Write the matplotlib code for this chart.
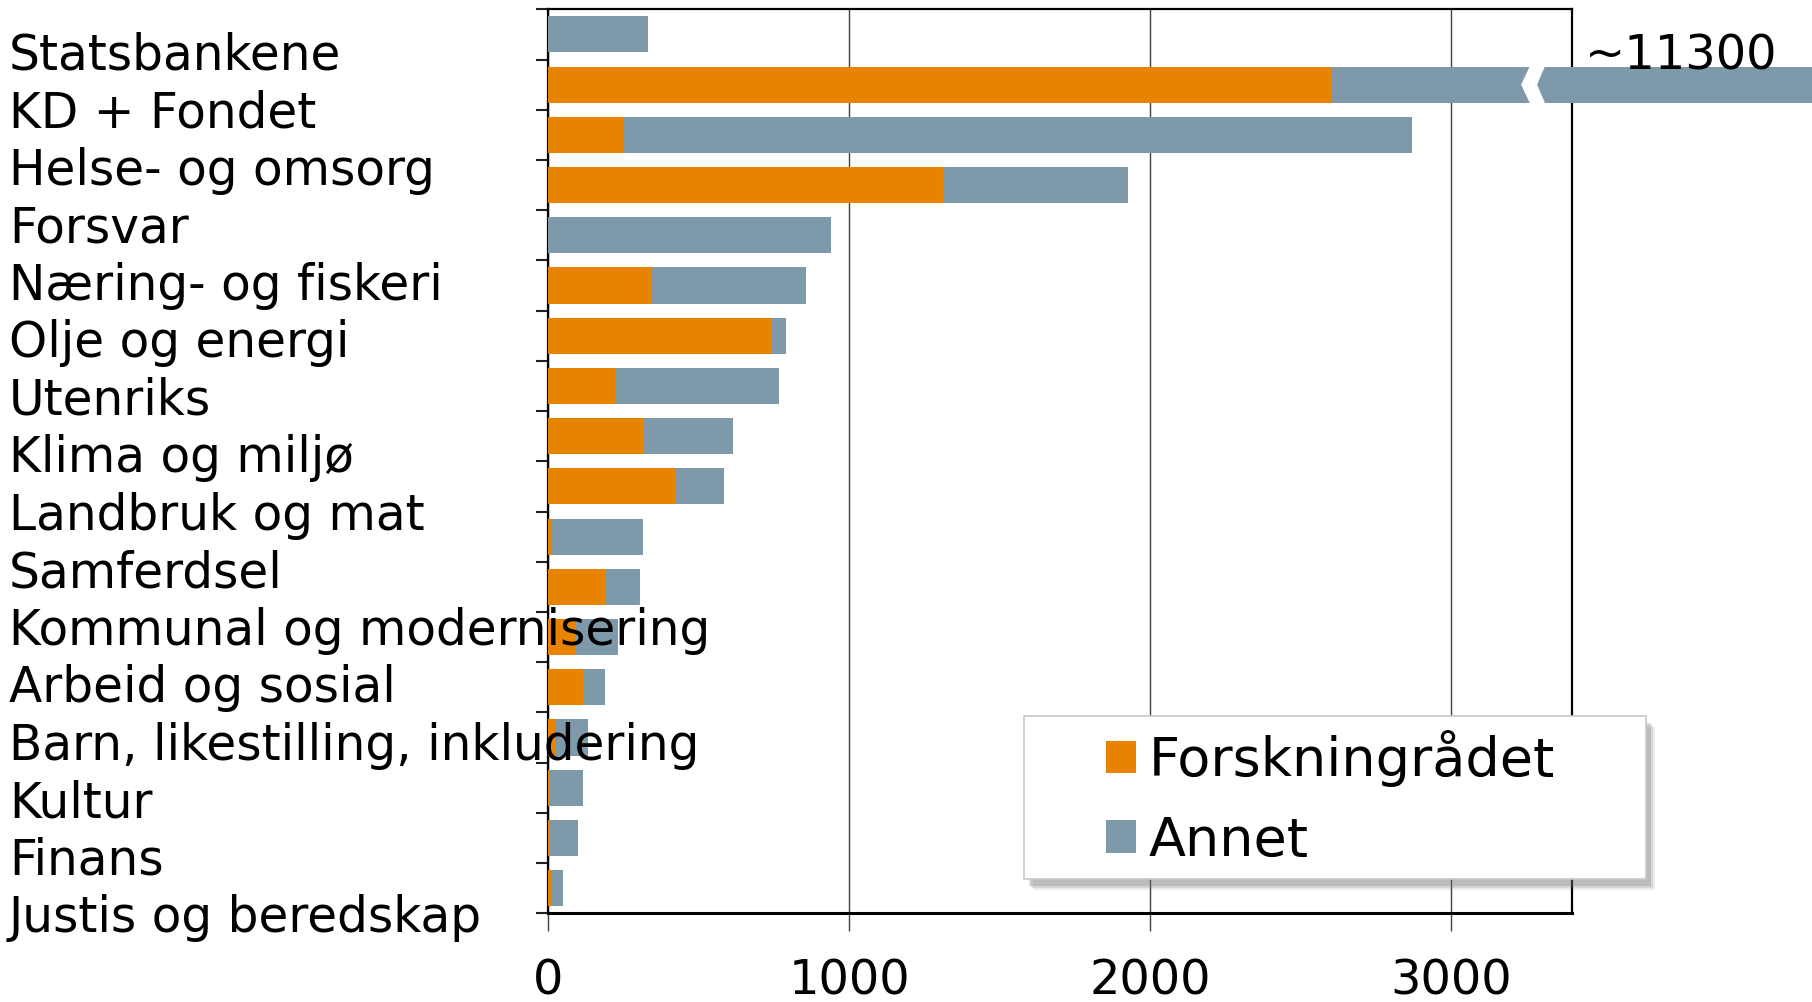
import numpy as np
import matplotlib
matplotlib.use("Agg")
import matplotlib.pyplot as plt
from matplotlib.patches import Rectangle, Polygon

# Row labels (drawn as a separate text column, as in the original)
labels = ["Statsbankene", "KD + Fondet", "Helse- og omsorg", "Forsvar",
          "Næring- og fiskeri", "Olje og energi", "Utenriks", "Klima og miljø",
          "Landbruk og mat", "Samferdsel", "Kommunal og modernisering",
          "Arbeid og sosial", "Barn, likestilling, inkludering", "Kultur",
          "Finans", "Justis og beredskap"]

# Bar values, top to bottom (18 bars)
forskningsradet = [0, 2600, 250, 1310, 0, 340, 740, 225, 315, 425,
                   12, 190, 90, 115, 25, 2, 1, 12]
annet = [330, 8700, 2620, 615, 940, 515, 50, 540, 300, 160,
         303, 115, 140, 73, 108, 114, 98, 36]
big_total_label = "~11300"

xticks = [0, 1000, 2000, 3000]

ORANGE = "#E88300"
GREY = "#7E9AAA"

W, H = 1812, 1002
fig = plt.figure(figsize=(W / 100, H / 100), dpi=100)
plt.rcParams['font.family'] = ['DejaVu Sans']


def fx(px):
    return px / W


def fy(py):
    return 1 - py / H


ax = fig.add_axes([fx(548.3), fy(913.3), fx(1571.7) - fx(548.3), fy(9.3) - fy(913.3)])

y = np.arange(len(forskningsradet))
b1 = ax.barh(y, forskningsradet, height=0.72, color=ORANGE, zorder=3,
             label="Forskningrådet")
b2 = ax.barh(y, annet, left=forskningsradet, height=0.72, color=GREY, zorder=3,
             label="Annet")
for p in list(b1) + list(b2):
    p.set_clip_on(False)

# break marker on the long bar
brk = 3265
yb = y[1]
ax.add_patch(Polygon([(brk, yb - 0.42), (brk - 33, yb), (brk, yb + 0.42),
                      (brk + 50, yb + 0.42), (brk + 20, yb), (brk + 50, yb - 0.42)],
                     closed=True, facecolor="white", edgecolor="none",
                     zorder=4, clip_on=False))

ax.set_xlim(0, 3400)
ax.set_ylim(len(y) - 0.5, -0.5)
ax.set_xticks(xticks)
ax.set_xticklabels([str(t) for t in xticks])
ax.set_yticks(np.arange(-0.5, len(y), 1))
ax.set_yticklabels([])
ax.xaxis.grid(True, color="#404040", linewidth=1.0, zorder=0)
ax.set_axisbelow(True)
ax.tick_params(axis="x", direction="out", length=13, width=1.0, color="#404040",
               labelsize=34.5, pad=18.5)
ax.tick_params(axis="y", direction="out", length=8.5, width=1.5, color="#202020")
for s in ax.spines.values():
    s.set_linewidth(1.6)
    s.set_color("black")
ax.spines["bottom"].set_linewidth(2.2)

# row labels
for i, lab in enumerate(labels):
    fig.text(fx(9), fy(70 + i * 57.47), lab, fontsize=35, va="baseline", ha="left")

fig.text(fx(1585), fy(69), big_total_label, fontsize=34.5, va="baseline", ha="left")

# legend box with soft shadow
bx0, by0, bx1, by1 = 1024, 716, 1645.5, 879
for k, a in [(9, 0.12), (7, 0.18), (5, 0.25)]:
    fig.add_artist(Rectangle((fx(bx0 + k), fy(by1 + k + 2)), fx(bx1) - fx(bx0),
                             fy(by0) - fy(by1), transform=fig.transFigure,
                             facecolor="#707070", alpha=a, edgecolor="none", zorder=3.8))
fig.add_artist(Rectangle((fx(bx0), fy(by1)), fx(bx1) - fx(bx0), fy(by0) - fy(by1),
                         transform=fig.transFigure, facecolor="white",
                         edgecolor="#c8c8c8", linewidth=1.2, zorder=4))
fig.legend(handles=[b1, b2], loc="upper left", bbox_to_anchor=(fx(1106), fy(730)),
           frameon=False, fontsize=39, borderpad=0, borderaxespad=0,
           handlelength=0.55, handleheight=0.55, handletextpad=0.24,
           labelspacing=0.51)

fig.savefig("out.png", dpi=100)
